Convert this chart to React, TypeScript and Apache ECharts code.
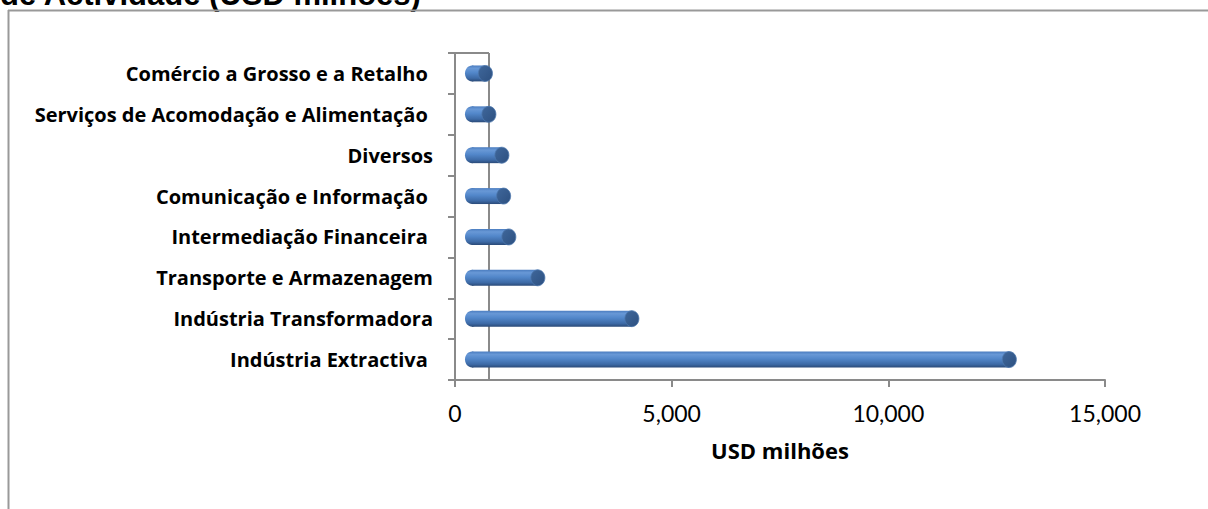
import React, { useEffect, useRef } from "react";
import * as echarts from "echarts";

// Sectors, listed top to bottom as they appear on the category axis
const categories = [
  "Comércio a Grosso e a Retalho ",
  "Serviços de Acomodação e Alimentação ",
  "Diversos",
  "Comunicação e Informação ",
  "Intermediação Financeira ",
  "Transporte e Armazenagem",
  "Indústria Transformadora",
  "Indústria Extractiva ",
];

// Investment per sector, USD millions
const values = [310, 390, 690, 730, 850, 1520, 3690, 12400];

const xTicks = { min: 0, max: 15000, interval: 5000 };

const titleText = "de Actividade (USD milhões)";
const axisName = "USD milhões";

// Plot frame
const GRID = { left: 455, right: 103, top: 53, bottom: 129 };
const WALL_DEPTH = 34; // horizontal offset of the back wall
const BAR_SHIFT = WALL_DEPTH / 2; // bars sit half way into the depth
const AXIS_GREY = "#8a8a8a";

export default function App() {
  const ref = useRef<HTMLDivElement>(null);

  useEffect(() => {
    if (!ref.current) return;
    const chart = echarts.init(ref.current, undefined, { renderer: "svg" });

    const bodyFill = new echarts.graphic.LinearGradient(0, 0, 0, 1, [
      { offset: 0, color: "#4b7dc0" },
      { offset: 0.18, color: "#6898d6" },
      { offset: 0.45, color: "#5287ca" },
      { offset: 0.8, color: "#3d6aa6" },
      { offset: 1, color: "#2a4a78" },
    ]);
    const capFill = new echarts.graphic.LinearGradient(0, 0, 1, 1, [
      { offset: 0, color: "#3f679b" },
      { offset: 1, color: "#2d5080" },
    ]);

    const plotBottom = 509 - GRID.bottom;

    chart.setOption({
      animation: false,
      backgroundColor: "#ffffff",
      grid: { ...GRID, containLabel: false },
      xAxis: {
        type: "value",
        min: xTicks.min,
        max: xTicks.max,
        interval: xTicks.interval,
        splitLine: { show: false },
        axisLine: { show: true, lineStyle: { color: AXIS_GREY, width: 2 } },
        axisTick: { show: true, length: 7, lineStyle: { color: AXIS_GREY, width: 2 } },
        axisLabel: {
          margin: 21,
          color: "#000",
          fontFamily: "Lato",
          fontSize: 23,
          formatter: (v: number) => v.toLocaleString("en-US"),
        },
        name: axisName,
        nameLocation: "middle",
        nameGap: 59,
        nameTextStyle: {
          color: "#000",
          fontFamily: "Open Sans",
          fontWeight: "bold",
          fontSize: 22,
        },
      },
      yAxis: {
        type: "category",
        data: categories,
        inverse: true,
        axisLine: { show: true, lineStyle: { color: AXIS_GREY, width: 2 } },
        axisTick: { show: true, length: 7, lineStyle: { color: AXIS_GREY, width: 2 } },
        axisLabel: {
          margin: 22,
          color: "#000",
          fontFamily: "Open Sans",
          fontWeight: "bold",
          fontSize: 20,
        },
      },
      graphic: [
        {
          type: "text",
          x: 0,
          y: 10,
          z: 0,
          style: {
            text: titleText,
            font: 'bold 31px "Liberation Sans"',
            fill: "#000",
            verticalAlign: "bottom",
          },
        },
        // outer chart border (left and top edges)
        {
          type: "line",
          z: 0,
          shape: { x1: 8.5, y1: 10, x2: 8.5, y2: 509 },
          style: { stroke: "#999", lineWidth: 2 },
        },
        {
          type: "line",
          z: 0,
          shape: { x1: 8, y1: 10.5, x2: 1208, y2: 10.5 },
          style: { stroke: "#999", lineWidth: 2 },
        },
        // back wall edges
        {
          type: "line",
          z: 0,
          shape: {
            x1: GRID.left,
            y1: GRID.top,
            x2: GRID.left + WALL_DEPTH,
            y2: GRID.top,
          },
          style: { stroke: AXIS_GREY, lineWidth: 2 },
        },
        {
          type: "line",
          z: 0,
          shape: {
            x1: GRID.left + WALL_DEPTH,
            y1: GRID.top,
            x2: GRID.left + WALL_DEPTH,
            y2: plotBottom,
          },
          style: { stroke: AXIS_GREY, lineWidth: 2 },
        },
      ],
      series: [
        {
          type: "custom",
          z: 5,
          encode: { x: 0, y: 1 },
          data: values.map((v, i) => [v, i]),
          renderItem: (_params: any, api: any) => {
            const v = api.value(0);
            const idx = api.value(1);
            const start = api.coord([0, idx]);
            const end = api.coord([v, idx]);
            const band = api.size([0, 1])[1];
            const r = band * 0.195;
            const rx = r * 0.88;
            const x0 = start[0] + BAR_SHIFT;
            const x1 = end[0] + BAR_SHIFT;
            const cy = start[1];
            return {
              type: "group",
              children: [
                {
                  type: "ellipse",
                  shape: { cx: x0, cy, rx, ry: r },
                  style: { fill: bodyFill },
                },
                {
                  type: "rect",
                  shape: { x: x0, y: cy - r, width: Math.max(0, x1 - x0), height: 2 * r },
                  style: { fill: bodyFill },
                },
                {
                  type: "ellipse",
                  shape: { cx: x1, cy, rx, ry: r },
                  style: { fill: capFill, stroke: "#4d77ad", lineWidth: 0.8 },
                },
              ],
            };
          },
        },
      ],
    });

    return () => chart.dispose();
  }, []);

  return (
    <div
      ref={ref}
      style={{ position: "absolute", left: 0, top: 0, width: 1208, height: 509 }}
    />
  );
}
